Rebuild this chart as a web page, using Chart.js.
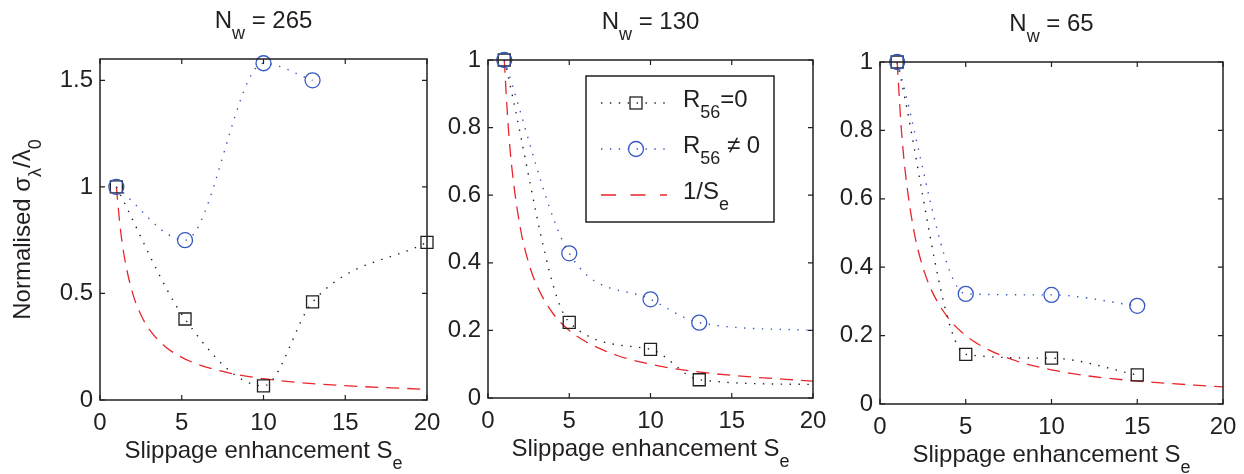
<!DOCTYPE html>
<html>
<head>
<meta charset="utf-8">
<script src="https://cdn.jsdelivr.net/npm/chart.js@4.4.0/dist/chart.umd.min.js"></script>
<style>
body { margin: 0; background: #fff; }
#wrap { position: relative; width: 1244px; height: 474px; }
canvas { position: absolute; top: 0; }
</style>
</head>
<body>
<div id="wrap">
<canvas id="c265" width="440" height="474" style="left:0px"></canvas>
<canvas id="c130" width="390" height="474" style="left:440px"></canvas>
<canvas id="c65" width="414" height="474" style="left:830px"></canvas>
</div>
<script>
// values
const xTicks = [0, 5, 10, 15, 20];
const yTicks265 = [0, 0.5, 1, 1.5];
const yTicksUnit = [0, 0.2, 0.4, 0.6, 0.8, 1];

// N_w = 265
const se265Zero = [1, 5.2, 10, 13, 20];
const sigma265Zero = [1, 0.38, 0.066, 0.46, 0.74];
const se265Slip = [1, 5.2, 10, 13];
const sigma265Slip = [1, 0.75, 1.58, 1.5];

// N_w = 130 (last point has no marker)
const se130 = [1, 5, 10, 13, 20];
const sigma130Zero = [1, 0.224, 0.144, 0.054, 0.04];
const sigma130Slip = [1, 0.428, 0.292, 0.223, 0.2];
const marks130 = [1, 1, 1, 1, 0];

// N_w = 65
const se65 = [1, 5, 10, 15];
const sigma65Zero = [1, 0.145, 0.134, 0.085];
const sigma65Slip = [1, 0.322, 0.319, 0.287];

// 1/S_e reference curve
const seInverse = [1, 1.25, 1.5, 2, 2.5, 3, 4, 5, 6, 8, 10, 12, 15, 20];
const inverse = [1, 0.8, 0.667, 0.5, 0.4, 0.333, 0.25, 0.2, 0.167, 0.125, 0.1, 0.083, 0.067, 0.05];

const ink = '#231f20';
const blue = '#3557c0';
const red = '#e8262d';
const fam = '"Liberation Sans", Arial, sans-serif';
const mainFont = '24px ' + fam;
const subFont = '18px ' + fam;

Chart.defaults.font.family = fam;
Chart.defaults.font.size = 24;
Chart.defaults.color = ink;

function pts(xs, ys) {
    return xs.map((x, i) => ({ x: x, y: ys[i] }));
}

function dotted(color, xs, ys, style, radius) {
    return {
        data: pts(xs, ys),
        borderColor: color,
        borderWidth: 1.4,
        borderDash: [1.4, 7.5],
        pointStyle: style,
        pointRadius: radius,
        pointBorderColor: color,
        pointBackgroundColor: 'rgba(0,0,0,0)',
        pointBorderWidth: 1.3,
        cubicInterpolationMode: 'monotone',
        clip: false
    };
}

function inverseLine() {
    return {
        data: pts(seInverse, inverse),
        borderColor: red,
        borderWidth: 1.3,
        borderDash: [13, 8],
        pointRadius: 0,
        cubicInterpolationMode: 'monotone',
        clip: false
    };
}

function richWidth(ctx, parts) {
    let w = 0;
    parts.forEach(p => {
        ctx.font = p[1] ? subFont : mainFont;
        w += ctx.measureText(p[0]).width;
    });
    return w;
}

function drawRich(ctx, parts, x, y) {
    ctx.textAlign = 'left';
    ctx.textBaseline = 'alphabetic';
    parts.forEach(p => {
        ctx.font = p[1] ? subFont : mainFont;
        ctx.fillText(p[0], x, p[1] ? y + 11 : y);
        x += ctx.measureText(p[0]).width;
    });
}

const framePlugin = {
    id: 'frame',
    afterDraw(chart, args, opts) {
        const ctx = chart.ctx;
        const a = chart.chartArea;
        const xs = chart.scales.x, ys = chart.scales.y;
        ctx.save();
        ctx.strokeStyle = ink;
        ctx.fillStyle = ink;
        ctx.lineWidth = 1.5;
        ctx.setLineDash([]);
        ctx.strokeRect(a.left, a.top, a.right - a.left, a.bottom - a.top);
        ctx.lineWidth = 1.2;
        ctx.beginPath();
        xs.ticks.forEach(t => {
            const px = xs.getPixelForValue(t.value);
            ctx.moveTo(px, a.bottom); ctx.lineTo(px, a.bottom - 5);
            ctx.moveTo(px, a.top); ctx.lineTo(px, a.top + 5);
        });
        ys.ticks.forEach(t => {
            const py = ys.getPixelForValue(t.value);
            ctx.moveTo(a.left, py); ctx.lineTo(a.left + 5, py);
            ctx.moveTo(a.right, py); ctx.lineTo(a.right - 5, py);
        });
        ctx.stroke();

        const cx = (a.left + a.right) / 2;
        const title = [['N', 0], ['w', 1], [' = ' + opts.nw, 0]];
        drawRich(ctx, title, cx - richWidth(ctx, title) / 2, a.top - 31);

        const xl = [['Slippage enhancement S', 0], ['e', 1]];
        drawRich(ctx, xl, cx - richWidth(ctx, xl) / 2, a.bottom + 58);

        if (opts.ylabel) {
            const yl = [['Normalised \u03c3', 0], ['\u03bb', 1], ['/\u03bb', 0], ['0', 1]];
            ctx.translate(30, (a.top + a.bottom) / 2);
            ctx.rotate(-Math.PI / 2);
            drawRich(ctx, yl, -richWidth(ctx, yl) / 2, 0);
            ctx.setTransform(1, 0, 0, 1, 0, 0);
        }

        if (opts.legend) {
            const bx = a.left + 98, by = a.top + 16, bw = 188, bh = 146;
            ctx.fillStyle = '#fff';
            ctx.fillRect(bx, by, bw, bh);
            ctx.strokeStyle = ink;
            ctx.lineWidth = 1.5;
            ctx.strokeRect(bx, by, bw, bh);
            const rows = [
                { y: 27, color: ink, dash: [1.4, 7.5], mark: 'rect', text: [['R', 0], ['56', 1], ['=0', 0]] },
                { y: 73, color: blue, dash: [1.4, 7.5], mark: 'circle', text: [['R', 0], ['56', 1], [' \u2260 0', 0]] },
                { y: 119, color: red, dash: [15, 14.5], mark: null, text: [['1/S', 0], ['e', 1]] }
            ];
            rows.forEach(r => {
                const ly = by + r.y;
                ctx.strokeStyle = r.color;
                ctx.lineWidth = 1.4;
                ctx.setLineDash(r.dash);
                ctx.beginPath();
                ctx.moveTo(bx + 15, ly);
                ctx.lineTo(bx + 81, ly);
                ctx.stroke();
                ctx.setLineDash([]);
                ctx.lineWidth = 1.3;
                const mx = bx + 50;
                if (r.mark === 'rect') {
                    ctx.strokeRect(mx - 6, ly - 6, 12, 12);
                } else if (r.mark === 'circle') {
                    ctx.beginPath();
                    ctx.arc(mx, ly, 7.5, 0, Math.PI * 2);
                    ctx.stroke();
                }
                ctx.fillStyle = ink;
                drawRich(ctx, r.text, bx + 97, ly + 4);
            });
        }
        ctx.restore();
    }
};

function makePanel(id, cfg) {
    const canvas = document.getElementById(id);
    return new Chart(canvas, {
        type: 'line',
        data: { datasets: cfg.datasets },
        options: {
            responsive: false,
            animation: false,
            events: [],
            layout: { padding: { top: cfg.top, right: canvas.width - cfg.right, left: 0, bottom: 0 } },
            scales: {
                x: {
                    type: 'linear', min: 0, max: 20,
                    grid: { display: false, drawTicks: false }, border: { display: false },
                    afterBuildTicks: s => { s.ticks = xTicks.map(v => ({ value: v })); },
                    ticks: { padding: 9, maxRotation: 0, callback: v => String(v) },
                    afterFit: s => { s.height = 474 - cfg.bottom; s.paddingLeft = 0; s.paddingRight = 0; }
                },
                y: {
                    type: 'linear', min: 0, max: cfg.yMax,
                    grid: { display: false, drawTicks: false }, border: { display: false },
                    afterBuildTicks: s => { s.ticks = cfg.yTicks.map(v => ({ value: v })); },
                    ticks: { padding: 7, callback: v => String(+v.toFixed(2)) },
                    afterFit: s => { s.width = cfg.left; s.paddingTop = 0; s.paddingBottom = 0; }
                }
            },
            plugins: {
                legend: { display: false },
                tooltip: { enabled: false },
                frame: { nw: cfg.nw, ylabel: cfg.ylabel, legend: cfg.legend }
            }
        },
        plugins: [framePlugin]
    });
}

makePanel('c265', {
    nw: 265, ylabel: true, legend: false,
    left: 100, right: 427, top: 59, bottom: 400, yMax: 1.6, yTicks: yTicks265,
    datasets: [
        dotted(blue, se265Slip, sigma265Slip, 'circle', 7.5),
        dotted(ink, se265Zero, sigma265Zero, 'rect', 8.5),
        inverseLine()
    ]
});

makePanel('c130', {
    nw: 130, ylabel: false, legend: true,
    left: 48, right: 373, top: 60, bottom: 398, yMax: 1, yTicks: yTicksUnit,
    datasets: [
        dotted(blue, se130, sigma130Slip, 'circle', marks130.map(m => m * 7.5)),
        dotted(ink, se130, sigma130Zero, 'rect', marks130.map(m => m * 8.5)),
        inverseLine()
    ]
});

makePanel('c65', {
    nw: 65, ylabel: false, legend: false,
    left: 50, right: 393, top: 62, bottom: 404, yMax: 1, yTicks: yTicksUnit,
    datasets: [
        dotted(blue, se65, sigma65Slip, 'circle', 7.5),
        dotted(ink, se65, sigma65Zero, 'rect', 8.5),
        inverseLine()
    ]
});
</script>
</body>
</html>
